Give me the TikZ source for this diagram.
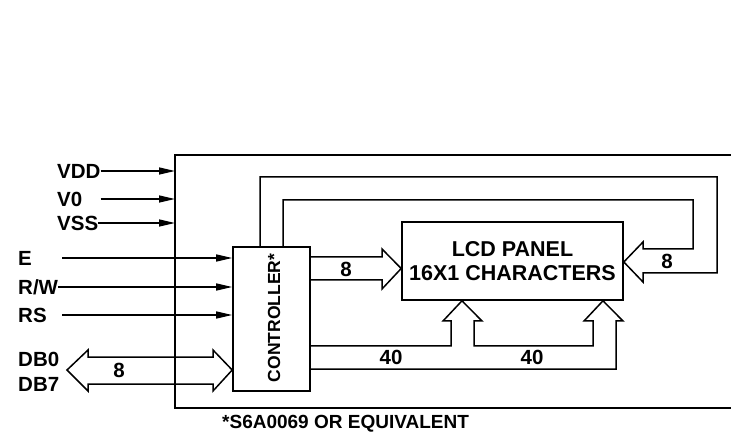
\documentclass[tikz,border=0pt]{standalone}
\usepackage{fontspec}
\setmainfont{Liberation Sans}
\usetikzlibrary{arrows.meta}
\tikzset{
  lbl/.style={font=\fontsize{20.5}{23}\selectfont\bfseries, inner sep=0pt, anchor=west},
  num/.style={font=\fontsize{20.5}{23}\selectfont\bfseries, inner sep=0pt},
  sig/.style={line width=1.5pt, -{Triangle[length=16pt,width=7pt]}},
  bus/.style={line width=1.5pt, line join=miter},
  blk/.style={draw, line width=1.6pt, inner sep=0pt},
}
\begin{document}
\begin{tikzpicture}[x=1pt,y=-1pt]
\useasboundingbox (0,0) rectangle (731,438);
% outer frame (right edge lies beyond the picture)
\draw[line width=2.2pt] (745,155) -- (175,155) -- (175,408) -- (745,408);
\coordinate (frameW) at (175,155);
% blocks
\node[blk, minimum width=77pt, minimum height=144pt] (ctrl) at (271.5,319) {};
\node[rotate=90, font=\fontsize{17.5}{20}\selectfont\bfseries, inner sep=0pt] (ctrltxt) at (274,318) {CONTROLLER*};
\node[blk, minimum width=221pt, minimum height=78pt, align=center,
      font=\fontsize{21.5}{23.5}\selectfont\bfseries] (lcd) at (512.5,261) {LCD PANEL\\16X1 CHARACTERS};
% supply inputs
\node[lbl] (vdd) at (57,171) {VDD};
\node[lbl] (vzero) at (57,199) {V0};
\node[lbl] (vss) at (57,223) {VSS};
\draw[sig] (vdd.east) -- (frameW |- vdd.east);
\draw[sig] (vzero.east -| vdd.east) -- (frameW |- vzero.east);
\draw[sig] (vss.east) -- (frameW |- vss.east);
% control inputs
\node[lbl] (e) at (18,258) {E};
\node[lbl] (rw) at (18,287) {R/W};
\node[lbl] (rs) at (18,315) {RS};
\coordinate (start) at (62,0);
\draw[sig] (start |- e.east) -- (ctrl.west |- e.east);
\draw[sig] (rw.east) -- (ctrl.west |- rw.east);
\draw[sig] (start |- rs.east) -- (ctrl.west |- rs.east);
% data bus
\node[lbl] (db0) at (18,359) {DB0};
\node[lbl] (db7) at (18,384) {DB7};
\draw[bus] (ctrl.west |- 0,370) -- (213,350) -- (213,357) -- (88,357) -- (88,350)
  -- (67,370) -- (88,391) -- (88,384) -- (213,384) -- (213,391) -- cycle;
\node[num] (n8a) at (119,370) {8};
% controller -> LCD bus
\draw[bus] (ctrl.east |- 0,257) -- (382,257) -- (382,249) -- (lcd.west |- 0,268.5)
  -- (382,289) -- (382,280) -- (ctrl.east |- 0,280);
\node[num] (n8b) at (346,269) {8};
% feedback bus (LCD -> controller)
\draw[bus] (ctrl.north -| 260,0) -- (260,177) -- (717,177) -- (717,273) -- (643,273)
  -- (643,282) -- (lcd.east |- 0,262) -- (643,242) -- (643,249) -- (693,249)
  -- (693,200) -- (283,200) -- (ctrl.north -| 283,0);
\node[num] (n8c) at (667,261) {8};
% segment/common buses
\draw[bus] (ctrl.east |- 0,346) -- (451,346) -- (451,321) -- (443,321) -- (lcd.south -| 462,0)
  -- (482,321) -- (474,321) -- (474,346) -- (593,346) -- (593,321) -- (584,321)
  -- (lcd.south -| 603,0) -- (623,321) -- (616,321) -- (616,369) -- (ctrl.east |- 0,369);
\node[num] (n40a) at (391,357) {40};
\node[num] (n40b) at (532,357) {40};
% footnote
\node[lbl, font=\fontsize{19}{21}\selectfont\bfseries] (foot) at (222,424) {*S6A0069 OR EQUIVALENT};
\end{tikzpicture}
\end{document}
